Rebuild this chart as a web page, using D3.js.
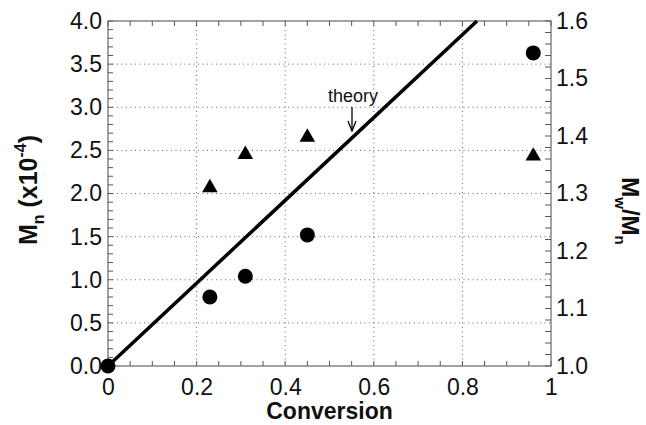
<!DOCTYPE html>
<html>
<head>
<meta charset="utf-8">
<script src="https://cdn.jsdelivr.net/npm/d3@7/dist/d3.min.js"></script>
<style>
  html, body { margin: 0; padding: 0; background: #fff; }
  svg { display: block; }
  text { font-family: "Liberation Sans", Arial, Helvetica, sans-serif; fill: #111; }
</style>
</head>
<body>
<svg id="chart" width="646" height="425"></svg>
<script>
// ---- data ----
const mnConversion = [0, 0.23, 0.31, 0.45, 0.96];
const mnValues = [0, 0.80, 1.04, 1.52, 3.63];
const pdiConversion = [0.23, 0.31, 0.45, 0.96];
const pdiValues = [1.31, 1.368, 1.398, 1.365];
const theoryConversion = [0, 0.833];
const theoryMn = [0, 4.0];
const xTickValues = [0, 0.2, 0.4, 0.6, 0.8, 1];
const xTickLabels = ["0", "0.2", "0.4", "0.6", "0.8", "1"];
const yLeftTickValues = [0, 0.5, 1, 1.5, 2, 2.5, 3, 3.5, 4];
const yLeftTickLabels = ["0.0", "0.5", "1.0", "1.5", "2.0", "2.5", "3.0", "3.5", "4.0"];
const yRightTickValues = [1.0, 1.1, 1.2, 1.3, 1.4, 1.5, 1.6];
const yRightTickLabels = ["1.0", "1.1", "1.2", "1.3", "1.4", "1.5", "1.6"];

// ---- layout ----
const L = 108, R = 551, T = 21, B = 366;
const svg = d3.select("#chart");
const x = d3.scaleLinear().domain([0, 1]).range([L, R]);
const yL = d3.scaleLinear().domain([0, 4]).range([B, T]);
const yR = d3.scaleLinear().domain([1.0, 1.6]).range([B, T]);

// grid
const grid = svg.append("g").attr("stroke", "#666").attr("stroke-width", 1).attr("stroke-dasharray", "1,3.5");
grid.selectAll(".gx").data(xTickValues.filter(v => v > 0 && v < 1)).enter().append("line")
  .attr("x1", d => x(d)).attr("x2", d => x(d)).attr("y1", T).attr("y2", B);
grid.selectAll(".gy").data(yLeftTickValues.filter(v => v > 0 && v < 4)).enter().append("line")
  .attr("x1", L).attr("x2", R).attr("y1", d => yL(d)).attr("y2", d => yL(d));

// minor/major ticks (inward)
const tk = svg.append("g").attr("stroke", "#555").attr("stroke-width", 1);
const xMinor = d3.range(0, 1.0001, 0.05);
tk.selectAll(".tb").data(xMinor).enter().append("line")
  .attr("x1", d => x(d)).attr("x2", d => x(d)).attr("y1", B).attr("y2", B - 5);
tk.selectAll(".tt").data(xMinor).enter().append("line")
  .attr("x1", d => x(d)).attr("x2", d => x(d)).attr("y1", T).attr("y2", T + 5);
const ylMinor = d3.range(0, 4.0001, 0.1);
tk.selectAll(".tl").data(ylMinor).enter().append("line")
  .attr("x1", L).attr("x2", L + 5).attr("y1", d => yL(d)).attr("y2", d => yL(d));
const yrMinor = d3.range(1.0, 1.6001, 0.02);
tk.selectAll(".tr").data(yrMinor).enter().append("line")
  .attr("x1", R).attr("x2", R - 6).attr("y1", d => yR(d)).attr("y2", d => yR(d));

// frame
svg.append("rect").attr("x", L).attr("y", T).attr("width", R - L).attr("height", B - T)
  .attr("fill", "none").attr("stroke", "#666").attr("stroke-width", 1.2);

// tick labels via d3 axes (no domain lines, no ticks)
const fs = 23;
const xAxis = d3.axisBottom(x).tickValues(xTickValues).tickFormat((d, i) => xTickLabels[i]).tickSize(0).tickPadding(13);
const gX = svg.append("g").attr("transform", `translate(0,${B})`).call(xAxis);
const yAxisL = d3.axisLeft(yL).tickValues(yLeftTickValues).tickFormat((d, i) => yLeftTickLabels[i]).tickSize(0).tickPadding(6);
const gL = svg.append("g").attr("transform", `translate(${L},0)`).call(yAxisL);
const yAxisR = d3.axisRight(yR).tickValues(yRightTickValues).tickFormat((d, i) => yRightTickLabels[i]).tickSize(0).tickPadding(5);
const gR = svg.append("g").attr("transform", `translate(${R},0)`).call(yAxisR);
[gX, gL, gR].forEach(g => {
  g.select(".domain").remove();
  g.selectAll("text").attr("font-size", fs).attr("font-family", "'Liberation Sans', Arial, sans-serif").attr("fill", "#111");
});

// theory line
const line = d3.line().x(d => x(d[0])).y(d => yL(d[1]));
svg.append("path").datum(theoryConversion.map((c, i) => [c, theoryMn[i]]))
  .attr("d", line).attr("fill", "none").attr("stroke", "#000").attr("stroke-width", 3.5);

// circles (Mn)
svg.selectAll(".mn").data(mnConversion.map((c, i) => [c, mnValues[i]])).enter().append("circle")
  .attr("cx", d => x(d[0])).attr("cy", d => yL(d[1])).attr("r", 7.5).attr("fill", "#000");

// triangles (PDI)
const tri = d3.symbol().type(d3.symbolTriangle).size(105);
svg.selectAll(".pdi").data(pdiConversion.map((c, i) => [c, pdiValues[i]])).enter().append("path")
  .attr("d", tri).attr("transform", d => `translate(${x(d[0])},${yR(d[1])})`).attr("fill", "#000");

// theory annotation
const ax = 352;
svg.append("text").attr("x", ax + 1).attr("y", 102).attr("text-anchor", "middle")
  .attr("font-size", 18).text("theory");
svg.append("line").attr("x1", ax).attr("x2", ax).attr("y1", 107).attr("y2", 131)
  .attr("stroke", "#000").attr("stroke-width", 1.3);
svg.append("path").attr("d", `M${ax - 4},${121} L${ax},${131} L${ax + 4},${121}`)
  .attr("fill", "none").attr("stroke", "#000").attr("stroke-width", 1.3);

// axis titles
svg.append("text").attr("x", (L + R) / 2).attr("y", 419).attr("text-anchor", "middle")
  .attr("font-size", 23).attr("font-weight", "bold").text("Conversion");

const lt = svg.append("text").attr("transform", `translate(37,190) rotate(-90)`)
  .attr("text-anchor", "middle").attr("font-size", 25).attr("font-weight", "bold");
lt.append("tspan").text("M");
lt.append("tspan").attr("font-size", 16).attr("dy", 7).text("n");
lt.append("tspan").attr("dy", -7).text(" (x10");
lt.append("tspan").attr("font-size", 16).attr("dy", -11).text("-4");
lt.append("tspan").attr("dy", 11).text(")");

const rt = svg.append("text").attr("transform", `translate(622,211) rotate(90)`)
  .attr("text-anchor", "middle").attr("font-size", 24).attr("font-weight", "bold");
rt.append("tspan").text("M");
rt.append("tspan").attr("font-size", 15).attr("dy", 7).text("w");
rt.append("tspan").attr("dy", -7).text("/M");
rt.append("tspan").attr("font-size", 15).attr("dy", 7).text("n");
</script>
</body>
</html>
